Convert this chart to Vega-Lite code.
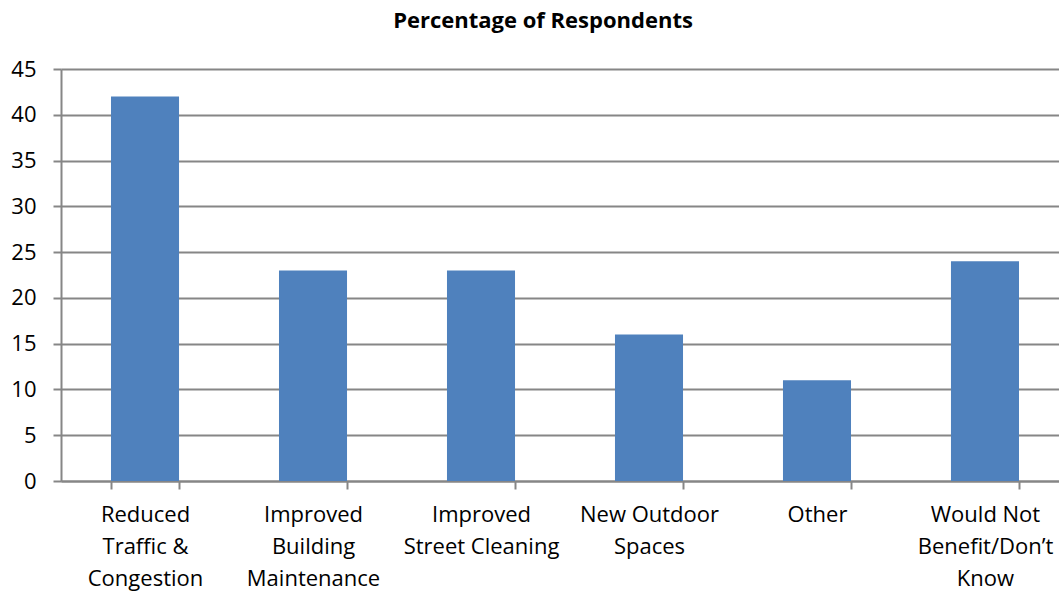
{
  "$schema": "https://vega.github.io/schema/vega-lite/v6.json",
  "autosize": {"type": "none"},
  "padding": {"left": 61, "top": 69, "right": 0, "bottom": 114},
  "width": 1008,
  "height": 412,
  "background": "white",
  "title": {
    "text": "Percentage of Respondents",
    "font": "Open Sans",
    "fontSize": 22,
    "fontWeight": "bold",
    "color": "#000000",
    "anchor": "middle",
    "frame": "group",
    "dx": -22,
    "offset": 25
  },
  "data": {
    "values": [
      {"benefit": "Reduced\nTraffic &\nCongestion", "pct": 42},
      {"benefit": "Improved\nBuilding\nMaintenance", "pct": 23},
      {"benefit": "Improved\nStreet Cleaning", "pct": 23},
      {"benefit": "New Outdoor\nSpaces", "pct": 16},
      {"benefit": "Other", "pct": 11},
      {"benefit": "Would Not\nBenefit/Don’t\nKnow", "pct": 24}
    ]
  },
  "mark": {"type": "bar", "color": "#4F81BD"},
  "encoding": {
    "x": {
      "field": "benefit",
      "type": "nominal",
      "sort": null,
      "scale": {"paddingInner": 0.595, "paddingOuter": 0.2976},
      "axis": {
        "title": null,
        "labelAngle": 0,
        "labelExpr": "split(datum.label, '\\n')",
        "labelFont": "Open Sans",
        "labelFontSize": 22,
        "labelColor": "#000000",
        "labelLineHeight": 32,
        "labelPadding": 15,
        "labelLimit": 0,
        "tickBand": "extent",
        "tickSize": 8,
        "tickColor": "#868686",
        "tickWidth": 2,
        "domainColor": "#868686",
        "domainWidth": 2,
        "grid": false
      }
    },
    "y": {
      "field": "pct",
      "type": "quantitative",
      "scale": {"domain": [0, 45], "nice": false},
      "axis": {
        "title": null,
        "values": [0, 5, 10, 15, 20, 25, 30, 35, 40, 45],
        "labelFont": "Open Sans",
        "labelFontSize": 22,
        "labelColor": "#000000",
        "labelPadding": 17,
        "tickSize": 8,
        "tickColor": "#868686",
        "tickWidth": 2,
        "domainColor": "#868686",
        "domainWidth": 2,
        "grid": true,
        "gridColor": "#868686",
        "gridWidth": 2
      }
    }
  },
  "config": {"view": {"stroke": null}}
}
